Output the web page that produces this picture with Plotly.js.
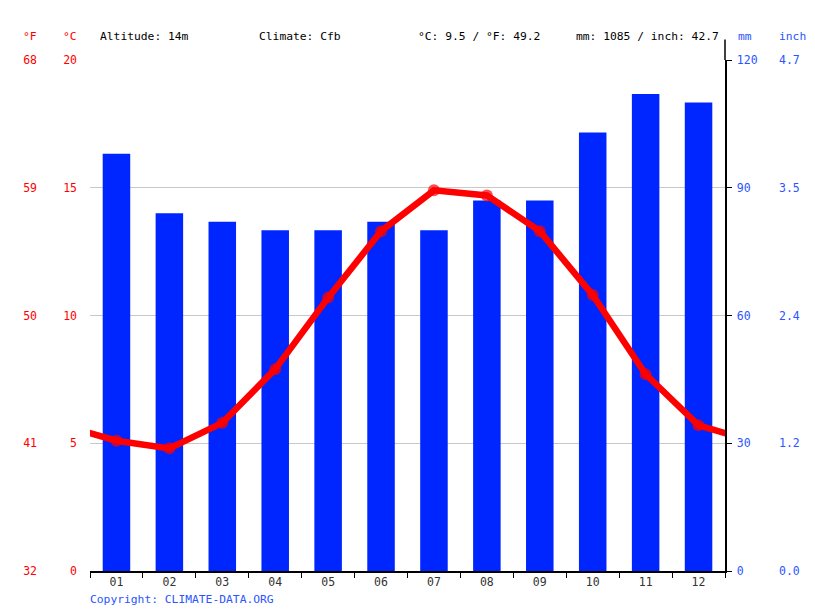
<!DOCTYPE html>
<html>
<head>
<meta charset="utf-8">
<script src="https://cdn.plot.ly/plotly-3.0.1.min.js"></script>
<style>
  body { margin: 0; background: #fff; }
  #plot { width: 815px; height: 611px; }
</style>
</head>
<body>
<div id="plot"></div>
<script>
// climate chart data
const months = ['01', '02', '03', '04', '05', '06', '07', '08', '09', '10', '11', '12'];
const precipMm = [98, 84, 82, 80, 80, 82, 80, 87, 87, 103, 112, 110];
const tempC = [5.1, 4.8, 5.8, 7.9, 10.7, 13.3, 14.9, 14.7, 13.3, 10.8, 7.7, 5.7];

const tempTicksC = [0, 5, 10, 15, 20];
const tempTicksF = ['32', '41', '50', '59', '68'];
const precipTicksMm = [0, 30, 60, 90, 120];
const precipTicksInch = ['0.0', '1.2', '2.4', '3.5', '4.7'];

const headerTexts = ['Altitude: 14m', 'Climate: Cfb', '°C: 9.5 / °F: 49.2', 'mm: 1085 / inch: 42.7'];

const RED = '#ff0000';
const BLUE = '#0026ff';
const LABEL_BLUE = '#2a55ff';
const MONO = '"DejaVu Sans Mono", "Liberation Mono", monospace';

// line wraps around: December before January, January after December
const monthNums = months.map((m, i) => i + 1);
const lineX = [0, ...monthNums, months.length + 1];
const lineY = [tempC[tempC.length - 1], ...tempC, tempC[0]];
const markerSizes = lineX.map((x, i) => (i === 0 || i === lineX.length - 1) ? 0 : 12);

let bars = {
    x: months,
    y: precipMm,
    type: 'bar',
    xaxis: 'x',
    yaxis: 'y',
    marker: { color: BLUE },
    width: 0.52,
    hoverinfo: 'skip'
};

let tempLine = {
    x: lineX,
    y: lineY,
    type: 'scatter',
    mode: 'lines+markers',
    xaxis: 'x2',
    yaxis: 'y2',
    line: { color: RED, width: 6.5 },
    marker: { color: RED, size: markerSizes, line: { width: 0 } },
    hoverinfo: 'skip'
};

// empty traces so the extra label axes are drawn
let fAxisTrace = { x: [1], y: [null], xaxis: 'x2', yaxis: 'y3', type: 'scatter', showlegend: false };
let inchAxisTrace = { x: [1], y: [null], xaxis: 'x2', yaxis: 'y4', type: 'scatter', showlegend: false };

const tickFont = (color) => ({ family: MONO, size: 11.5, color: color });

let layout = {
    width: 815,
    height: 611,
    margin: { l: 90, r: 90, t: 60, b: 40 },
    paper_bgcolor: '#fff',
    plot_bgcolor: '#fff',
    showlegend: false,
    xaxis: {
        type: 'category',
        tickson: 'boundaries',
        ticks: 'outside',
        ticklen: 5,
        tickcolor: '#000',
        showline: true,
        linecolor: '#000',
        linewidth: 1.5,
        showgrid: false,
        tickfont: tickFont('#333'),
        fixedrange: true
    },
    xaxis2: {
        overlaying: 'x',
        range: [0.5, 12.5],
        visible: false,
        fixedrange: true
    },
    yaxis: {
        side: 'right',
        range: [0, 120],
        tickvals: precipTicksMm,
        ticks: 'outside',
        ticklen: 5,
        tickcolor: '#000',
        showline: true,
        linecolor: '#000',
        linewidth: 1.5,
        showgrid: true,
        gridcolor: '#c8c8c8',
        zeroline: false,
        ticklabelstandoff: 3,
        tickfont: tickFont(LABEL_BLUE),
        fixedrange: true
    },
    yaxis2: {
        overlaying: 'y',
        anchor: 'x2',
        side: 'left',
        range: [0, 20],
        tickvals: tempTicksC,
        ticks: '',
        showgrid: false,
        zeroline: false,
        showline: false,
        ticklabelstandoff: 12,
        tickfont: tickFont(RED),
        fixedrange: true
    },
    yaxis3: {
        overlaying: 'y',
        anchor: 'x2',
        side: 'left',
        range: [0, 20],
        tickvals: tempTicksC,
        ticktext: tempTicksF,
        ticks: '',
        showgrid: false,
        zeroline: false,
        showline: false,
        ticklabelstandoff: 52,
        tickfont: tickFont(RED),
        fixedrange: true
    },
    yaxis4: {
        overlaying: 'y',
        anchor: 'x2',
        side: 'right',
        range: [0, 120],
        tickvals: precipTicksMm,
        ticktext: precipTicksInch,
        ticks: '',
        showgrid: false,
        zeroline: false,
        showline: false,
        ticklabelstandoff: 53,
        tickfont: tickFont(LABEL_BLUE),
        fixedrange: true
    },
    shapes: [
        { type: 'line', xref: 'paper', yref: 'paper', x0: 1, x1: 1, y0: 1, y1: 1.04, line: { color: '#000', width: 1.5 } }
    ],
    annotations: [
        { text: '°F', x: 30, color: RED },
        { text: '°C', x: 70, color: RED },
        { text: headerTexts[0], x: 98, anchor: 'left', color: '#000' },
        { text: headerTexts[1], x: 257, anchor: 'left', color: '#000' },
        { text: headerTexts[2], x: 416, anchor: 'left', color: '#000' },
        { text: headerTexts[3], x: 574, anchor: 'left', color: '#000' },
        { text: 'mm', x: 736, anchor: 'left', color: LABEL_BLUE },
        { text: 'inch', x: 777, anchor: 'left', color: LABEL_BLUE }
    ].map(a => ({
        text: a.text,
        xref: 'paper',
        yref: 'paper',
        x: (a.x - 90) / 635,
        y: 1 + (60 - 36) / 511,
        xanchor: a.anchor || 'center',
        yanchor: 'middle',
        showarrow: false,
        font: { family: MONO, size: 11.3, color: a.color }
    })).concat([{
        text: 'Copyright: CLIMATE-DATA.ORG',
        xref: 'paper',
        yref: 'paper',
        x: -2 / 635,
        y: -(599 - 571) / 511,
        xanchor: 'left',
        yanchor: 'middle',
        showarrow: false,
        font: { family: MONO, size: 11.3, color: LABEL_BLUE }
    }])
};

Plotly.newPlot('plot', [bars, tempLine, fAxisTrace, inchAxisTrace], layout, { displayModeBar: false, staticPlot: true });
</script>
</body>
</html>
